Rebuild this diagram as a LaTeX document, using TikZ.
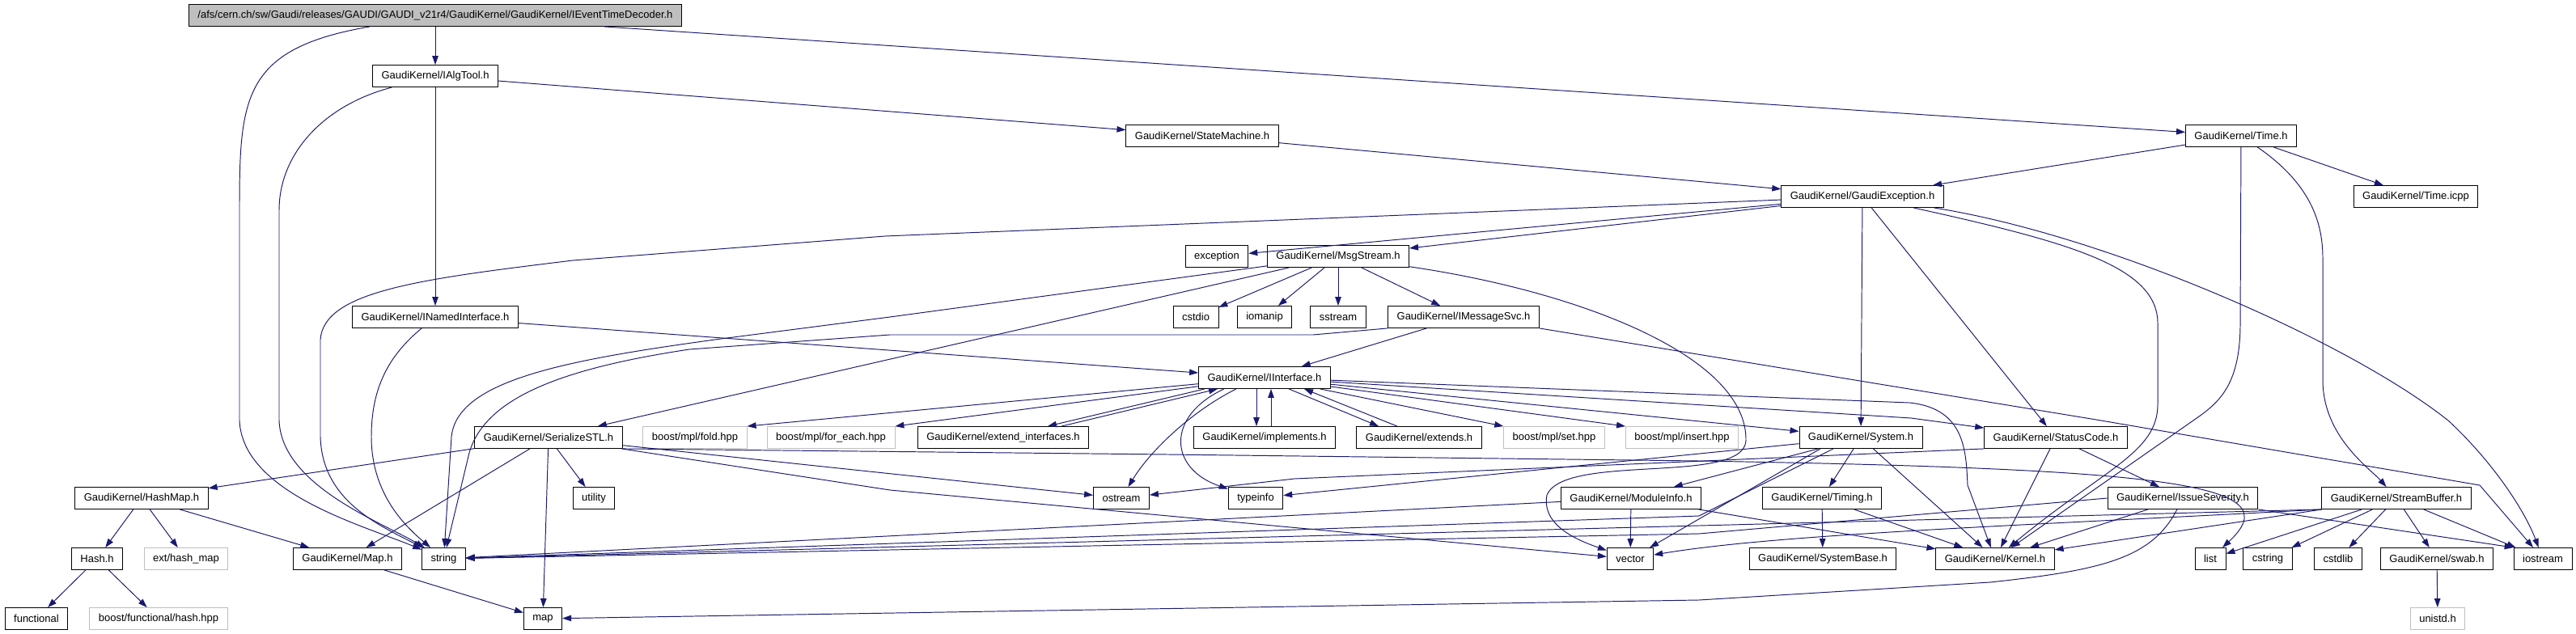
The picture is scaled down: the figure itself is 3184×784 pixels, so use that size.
\documentclass[tikz,border=0pt]{standalone}
\usepackage{fontspec}
\setmainfont{Liberation Sans}
\usetikzlibrary{arrows.meta,calc}
\definecolor{lnk}{HTML}{191970}
\definecolor{ghost}{HTML}{BFBFBF}
\definecolor{rootfill}{HTML}{BFBFBF}

\begin{document}
\begin{tikzpicture}[x=0.02cm,y=-0.02cm,
  font=\fontsize{7.4}{9}\selectfont,
  hdr/.style={draw=black,line width=0.5pt,fill=white,inner xsep=0.22cm,inner ysep=0pt,minimum height=0.54cm},
  extbox/.style={hdr,draw=ghost},
  rootbox/.style={hdr,fill=rootfill},
  dep/.style={draw=lnk,line width=0.55pt,-{Triangle[length=0.22cm,width=0.15cm]}}]
  \fill[white] (0,0) rectangle (3184,784);
  \useasboundingbox (0,0) rectangle (3184,784);

  % top rows
  \node[rootbox] (root) at (538,19) {/afs/cern.ch/sw/Gaudi/releases/GAUDI/GAUDI\_v21r4/GaudiKernel/GaudiKernel/IEventTimeDecoder.h};
  \node[hdr] (ialgtool) at (538,94) {GaudiKernel/IAlgTool.h};
  \node[hdr] (statemachine) at (1486,168) {GaudiKernel/StateMachine.h};
  \node[hdr] (timeh) at (2770,168) {GaudiKernel/Time.h};
  \node[hdr] (gexc) at (2302,243) {GaudiKernel/GaudiException.h};
  \node[hdr] (timeicpp) at (2986,243) {GaudiKernel/Time.icpp};
  \node[hdr] (exception) at (1504,317) {exception};
  \node[hdr] (msgstream) at (1654,317) {GaudiKernel/MsgStream.h};
  \node[hdr] (inamed) at (538,392) {GaudiKernel/INamedInterface.h};
  \node[hdr] (cstdio) at (1478,392) {cstdio};
  \node[hdr] (iomanip) at (1563,392) {iomanip};
  \node[hdr] (sstream) at (1654,392) {sstream};
  \node[hdr] (imsgsvc) at (1809,392) {GaudiKernel/IMessageSvc.h};
  \node[hdr] (iiface) at (1563,467) {GaudiKernel/IInterface.h};

  % interface row
  \node[hdr] (serstl) at (678,541) {GaudiKernel/SerializeSTL.h};
  \node[extbox] (fold) at (859,541) {boost/mpl/fold.hpp};
  \node[extbox] (foreach) at (1027,541) {boost/mpl/for\_each.hpp};
  \node[hdr] (extif) at (1240,541) {GaudiKernel/extend\_interfaces.h};
  \node[hdr] (implements) at (1563,541) {GaudiKernel/implements.h};
  \node[hdr] (extends) at (1754,541) {GaudiKernel/extends.h};
  \node[extbox] (mplset) at (1921,541) {boost/mpl/set.hpp};
  \node[extbox] (mplinsert) at (2079,541) {boost/mpl/insert.hpp};
  \node[hdr] (system) at (2300,541) {GaudiKernel/System.h};
  \node[hdr] (statuscode) at (2541,541) {GaudiKernel/StatusCode.h};

  \node[hdr] (hashmap) at (175,616) {GaudiKernel/HashMap.h};
  \node[hdr] (utility) at (734,616) {utility};
  \node[hdr] (ostream) at (1386,616) {ostream};
  \node[hdr] (typeinfo) at (1552,616) {typeinfo};
  \node[hdr] (moduleinfo) at (2016,616) {GaudiKernel/ModuleInfo.h};
  \node[hdr] (timing) at (2252,616) {GaudiKernel/Timing.h};
  \node[hdr] (issuesev) at (2698,616) {GaudiKernel/IssueSeverity.h};
  \node[hdr] (streambuf) at (2962,616) {GaudiKernel/StreamBuffer.h};

  % leaves
  \node[hdr] (hashh) at (120,691) {Hash.h};
  \node[extbox] (exthashmap) at (230,691) {ext/hash\_map};
  \node[hdr] (maph) at (429.5,691) {GaudiKernel/Map.h};
  \node[hdr] (string) at (548.5,691) {string};
  \node[hdr] (vector) at (2015,691) {vector};
  \node[hdr] (sysbase) at (2253,691) {GaudiKernel/SystemBase.h};
  \node[hdr] (kernel) at (2466,691) {GaudiKernel/Kernel.h};
  \node[hdr] (list) at (2732,691) {list};
  \node[hdr] (cstring) at (2803,691) {cstring};
  \node[hdr] (cstdlib) at (2890,691) {cstdlib};
  \node[hdr] (swab) at (3012,691) {GaudiKernel/swab.h};
  \node[hdr] (iostream) at (3143,691) {iostream};
  \node[hdr] (functional) at (45,765) {functional};
  \node[extbox] (boosthash) at (196,765) {boost/functional/hash.hpp};
  \node[hdr] (map) at (671,765) {map};
  \node[extbox] (unistd) at (3013,765) {unistd.h};

  % decoder and tool
  \draw[dep] (root) -- (ialgtool);
  \draw[dep] (root) -- (timeh);
  \draw[dep] (root) .. controls (300,60) and (296,120) .. (296,260) -- (296,520) .. controls (300,610) and (450,650) .. (string);
  \draw[dep] (ialgtool) -- (inamed);
  \draw[dep] (ialgtool) -- (statemachine);
  \draw[dep] (ialgtool) .. controls (400,130) and (345,190) .. (345,260) -- (345,520) .. controls (348,600) and (470,645) .. (string);
  \draw[dep] (statemachine) -- (gexc);
  \draw[dep] (timeh) -- (gexc);
  \draw[dep] (timeh) -- (timeicpp);
  \draw[dep] (timeh) -- (2769,400) .. controls (2769,480) and (2740,500) .. (2708,522) -- (kernel);
  \draw[dep] (timeh) .. controls (2860,230) and (2871,280) .. (2871,320) -- (2871,470) .. controls (2871,540) and (2930,580) .. (streambuf);

  % exception
  \draw[dep] (gexc) -- (exception);
  \draw[dep] (gexc) -- (msgstream);
  \draw[dep] (gexc) -- (system);
  \draw[dep] (gexc) -- (statuscode);
  \draw[dep] (gexc) -- (1094,292) -- (708,322) .. controls (520,345) and (400,360) .. (396,420) -- (396,540) .. controls (398,620) and (470,650) .. (string);
  \draw[dep] (gexc) .. controls (2560,300) and (2667,330) .. (2667,400) -- (2667,500) .. controls (2667,560) and (2600,580) .. (kernel);
  \draw[dep] (gexc) .. controls (2600,290) and (2900,420) .. (3026,520) .. controls (3080,570) and (3120,630) .. (iostream);

  % message stream
  \draw[dep] (msgstream) -- (cstdio);
  \draw[dep] (msgstream) -- (iomanip);
  \draw[dep] (msgstream) -- (sstream);
  \draw[dep] (msgstream) -- (imsgsvc);
  \draw[dep] (msgstream) -- (serstl);
  \draw[dep] (msgstream) -- (1100,392) -- (891,419) .. controls (700,445) and (565,470) .. (558,540) -- (string);
  \draw[dep] (msgstream) .. controls (1950,360) and (2160,440) .. (2158,545) .. controls (2155,600) and (1935,560) .. (1912,612) .. controls (1905,650) and (1950,668) .. (vector);
  \draw[dep] (imsgsvc) -- (iiface);
  \draw[dep] (imsgsvc.south west) -- (1623,414) -- (1100,414) -- (852,432) .. controls (700,455) and (600,490) .. (580,560) -- (string);
  \draw[dep] (imsgsvc.south east) -- (2591,519) -- (3065,600) -- (iostream);
  \draw[dep] (inamed) -- (iiface);
  \draw[dep] (inamed) .. controls (480,440) and (459,480) .. (459,540) .. controls (459,610) and (500,650) .. (string);

  % interface
  \draw[dep] (iiface) -- (fold.north east);
  \draw[dep] (iiface) -- (foreach.north east);
  \draw[dep] ($(iiface.south)+(-74,0)$) -- ($(extif.north)+(55,0)$);
  \draw[dep] ($(extif.north)+(72,0)$) -- ($(iiface.south)+(-58,0)$);
  \draw[dep] ($(iiface.south)+(-10,0)$) -- ($(implements.north)+(-10,0)$);
  \draw[dep] ($(implements.north)+(8,0)$) -- ($(iiface.south)+(8,0)$);
  \draw[dep] ($(iiface.south)+(30,0)$) -- ($(extends.north)+(-50,0)$);
  \draw[dep] ($(extends.north)+(-27,0)$) -- ($(iiface.south)+(49,0)$);
  \draw[dep] (iiface) -- (mplset.north west);
  \draw[dep] (iiface) -- (mplinsert.north west);
  \draw[dep] (iiface) -- (system);
  \draw[dep] (iiface) -- (2362,517) -- (statuscode);
  \draw[dep] (iiface) -- (2360,498) .. controls (2430,505) and (2430,560) .. (2432,600) -- (kernel);
  \draw[dep] ($(iiface.south)+(-35,0)$) .. controls (1470,510) and (1420,560) .. (ostream);
  \draw[dep] ($(iiface.south)+(-50,0)$) .. controls (1440,515) and (1445,580) .. (typeinfo);

  % serialize
  \draw[dep] (serstl) -- (hashmap);
  \draw[dep] (serstl) -- (maph);
  \draw[dep] (serstl) -- (map);
  \draw[dep] (serstl) -- (utility);
  \draw[dep] (serstl) -- (ostream);
  \draw[dep] (serstl) -- (1100,606) -- (vector);
  \draw[dep] (serstl.south east) -- (1444,562) -- (2100,570) .. controls (2700,580) and (2830,600) .. (list);
  \draw[dep] (hashmap) -- (hashh);
  \draw[dep] (hashmap) -- (exthashmap);
  \draw[dep] (hashmap) -- (maph);
  \draw[dep] (hashh) -- (functional);
  \draw[dep] (hashh) -- (boosthash);
  \draw[dep] (maph) -- (map);

  % system
  \draw[dep] (system) -- (timing);
  \draw[dep] (system) -- (kernel);
  \draw[dep] (system) -- (typeinfo);
  \draw[dep] (system) -- (moduleinfo);
  \draw[dep] ($(system.south)+(-50,0)$) -- (vector);
  \draw[dep] ($(system.south)+(-34,0)$) -- (2100,638) -- (string);
  \draw[dep] (moduleinfo) -- (vector);
  \draw[dep] (moduleinfo) -- (string);
  \draw[dep] (moduleinfo) -- (kernel);
  \draw[dep] (timing) -- (sysbase);
  \draw[dep] (timing) -- (kernel);

  % status
  \draw[dep] (statuscode) -- (issuesev);
  \draw[dep] (statuscode) -- (kernel);
  \draw[dep] (statuscode.south west) -- (1600,592) -- (ostream);
  \draw[dep] (issuesev) -- (kernel);
  \draw[dep] (issuesev) -- (iostream.north west);
  \draw[dep] (issuesev.west) -- (2100,660) -- (string);
  \draw[dep] (issuesev) .. controls (2660,690) and (2600,705) .. (2460,720) -- (2100,742) -- (map);

  % stream buffer
  \draw[dep] (streambuf) -- (list);
  \draw[dep] (streambuf) -- (cstring);
  \draw[dep] (streambuf) -- (cstdlib);
  \draw[dep] (streambuf) -- (swab);
  \draw[dep] (streambuf) -- (iostream);
  \draw[dep] (streambuf) -- (kernel);
  \draw[dep] (streambuf.south west) .. controls (2500,650) and (2200,660) .. (vector);
  \draw[dep] (streambuf.south west) -- (2100,650) -- (string);
  \draw[dep] (swab) -- (unistd);
\end{tikzpicture}
\end{document}
